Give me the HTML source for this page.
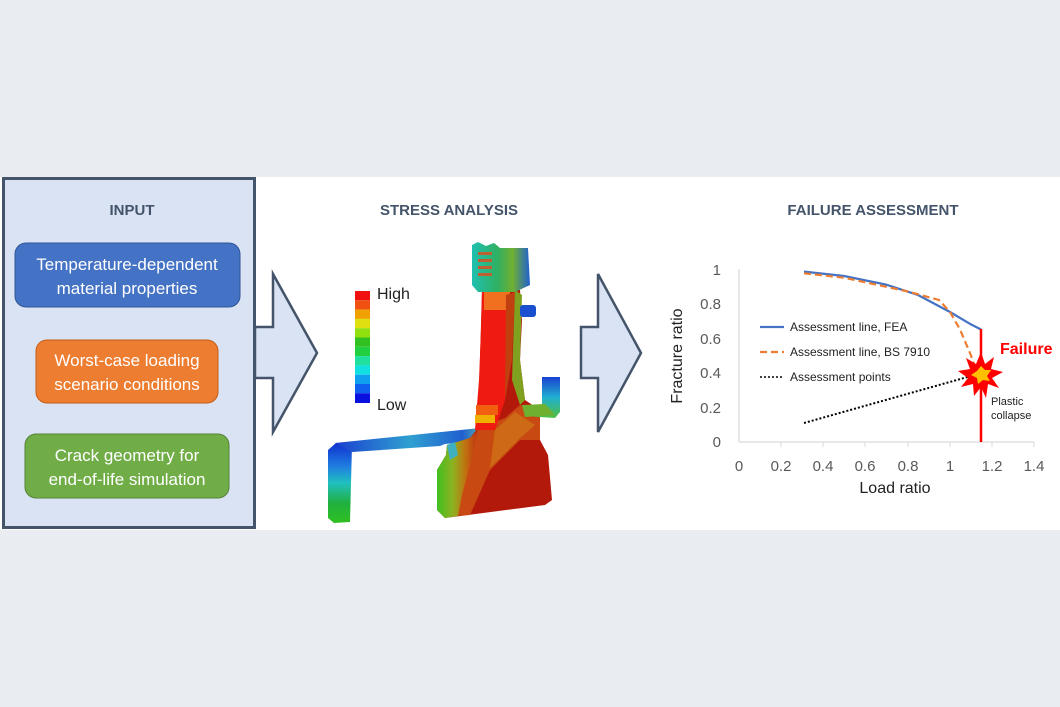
<!DOCTYPE html>
<html><head><meta charset="utf-8"><style>
html,body{margin:0;padding:0;}
body{width:1060px;height:707px;background:#e9edf1;position:relative;overflow:hidden;font-family:"Liberation Sans",sans-serif;}
svg{position:absolute;left:0;top:0;}
</style></head><body>
<svg width="1060" height="707" viewBox="0 0 1060 707" font-family="Liberation Sans, sans-serif">
<defs>
<linearGradient id="leg" x1="0" y1="0" x2="0" y2="1">
<stop offset="0" stop-color="#1030d0"/><stop offset="0.3" stop-color="#2080e0"/><stop offset="0.5" stop-color="#20c0c0"/><stop offset="0.75" stop-color="#20b040"/><stop offset="1" stop-color="#30c020"/></linearGradient>
<linearGradient id="arm" x1="0" y1="0" x2="1" y2="0">
<stop offset="0" stop-color="#1a40d0"/><stop offset="0.5" stop-color="#30a0d0"/><stop offset="0.85" stop-color="#2060d0"/><stop offset="1" stop-color="#60c0a0"/></linearGradient>
<linearGradient id="lstrip" x1="0" y1="0" x2="1" y2="0">
<stop offset="0" stop-color="#40c020"/><stop offset="0.4" stop-color="#90b020"/><stop offset="0.7" stop-color="#c07010"/><stop offset="1" stop-color="#c03010"/></linearGradient>
<linearGradient id="top" x1="0" y1="0" x2="1" y2="0">
<stop offset="0" stop-color="#20c0b0"/><stop offset="0.45" stop-color="#30b060"/><stop offset="0.7" stop-color="#70b030"/><stop offset="1" stop-color="#2060d0"/></linearGradient>
<linearGradient id="rarm" x1="0" y1="0" x2="0" y2="1">
<stop offset="0" stop-color="#1a40d0"/><stop offset="0.5" stop-color="#20b0d0"/><stop offset="1" stop-color="#50c040"/></linearGradient>
</defs>
<rect x="0" y="177" width="1060" height="353" fill="#ffffff"/>
<rect x="3.5" y="178.5" width="251" height="349" fill="#dae3f3" stroke="#44546a" stroke-width="3"/>
<text x="132" y="215" text-anchor="middle" font-size="15" font-weight="bold" fill="#44546a">INPUT</text>
<rect x="15" y="243" width="225" height="64" rx="11" fill="#4472c4" stroke="#2f5597" stroke-width="1"/>
<text x="127" y="270" text-anchor="middle" font-size="17" fill="#fff">Temperature-dependent</text>
<text x="127" y="294" text-anchor="middle" font-size="17" fill="#fff">material properties</text>
<rect x="36" y="340" width="182" height="63" rx="11" fill="#ed7d31" stroke="#c55a11" stroke-width="1"/>
<text x="127" y="366" text-anchor="middle" font-size="17" fill="#fff">Worst-case loading</text>
<text x="127" y="390" text-anchor="middle" font-size="17" fill="#fff">scenario conditions</text>
<rect x="25" y="434" width="204" height="64" rx="11" fill="#70ad47" stroke="#548235" stroke-width="1"/>
<text x="127" y="461" text-anchor="middle" font-size="17" fill="#fff">Crack geometry for</text>
<text x="127" y="485" text-anchor="middle" font-size="17" fill="#fff">end-of-life simulation</text>
<polygon points="255,327 273,327 273,274 317,353 273,432 273,378 255,378" fill="#dae3f3" stroke="#44546a" stroke-width="2.5"/>
<polygon points="581,327 598,327 598,274 641,353 598,432 598,378 581,378" fill="#dae3f3" stroke="#44546a" stroke-width="2.5"/>
<text x="449" y="215" text-anchor="middle" font-size="15" font-weight="bold" fill="#44546a">STRESS ANALYSIS</text>
<text x="873" y="215" text-anchor="middle" font-size="15" font-weight="bold" fill="#44546a">FAILURE ASSESSMENT</text>
<g>
<rect x="355" y="291" width="15" height="9.3" fill="#f01010"/>
<rect x="355" y="300.3" width="15" height="9.3" fill="#f05010"/>
<rect x="355" y="309.6" width="15" height="9.3" fill="#f0a000"/>
<rect x="355" y="318.9" width="15" height="9.3" fill="#e0e010"/>
<rect x="355" y="328.2" width="15" height="9.3" fill="#90e010"/>
<rect x="355" y="337.5" width="15" height="9.3" fill="#30c020"/>
<rect x="355" y="346.8" width="15" height="9.3" fill="#20d040"/>
<rect x="355" y="356.1" width="15" height="9.3" fill="#20e0a0"/>
<rect x="355" y="365.4" width="15" height="9.3" fill="#10e0e0"/>
<rect x="355" y="374.7" width="15" height="9.3" fill="#10a0f0"/>
<rect x="355" y="384" width="15" height="9.3" fill="#1060f0"/>
<rect x="355" y="393.3" width="15" height="9.7" fill="#0a10e0"/>
<text x="377" y="299" font-size="16" fill="#222">High</text>
<text x="377" y="410" font-size="16" fill="#222">Low</text>
</g>
<g>
<polygon points="328,450 336,443 352,445 350,522 334,523 328,518" fill="url(#leg)"/>
<polygon points="335,443 480,428 485,440 445,444 440,446 352,452" fill="url(#arm)"/>
<path d="M482,290 L520,290 L522,320 L520,360 L525,400 L540,410 L540,440 L548,455 L552,500 L545,505 L445,518 L437,510 L437,470 L446,455 L447,445 L470,438 L478,428 Z" fill="#b3190b"/>
<polygon points="478,428 505,418 520,405 540,412 540,440 520,440 490,470 470,515 455,516 462,480" fill="#c84a12"/>
<polygon points="495,430 515,412 535,425 520,438 490,468" fill="#d07818" opacity="0.7"/>
<path d="M437,510 L437,470 L446,455 L447,445 L470,438 L478,430 L470,465 L462,495 L458,516 L445,518 Z" fill="url(#lstrip)"/>
<path d="M447,445 L455,442 L458,455 L450,460 Z" fill="#40b0c0"/>
<path d="M482,290 L508,290 L505,400 L495,430 L475,430 L479,380 L481,330 Z" fill="#ef1a10"/>
<rect x="476" y="405" width="22" height="10" fill="#f06010"/>
<rect x="475" y="415" width="20" height="8" fill="#f0b000"/>
<rect x="484" y="288" width="26" height="22" fill="#f07020"/>
<path d="M506,295 L515,292 L512,360 L505,400 Z" fill="#c04010"/>
<path d="M515,290 L522,295 L520,360 L525,400 L520,405 L512,380 Z" fill="#80a020"/>
<path d="M472,245 L478,242 L486,246 L494,243 L500,248 L528,248 L530,285 L515,292 L478,292 L472,285 Z" fill="url(#top)"/>
<rect x="478" y="252" width="14" height="3" fill="#c06030"/>
<rect x="478" y="259" width="14" height="3" fill="#c06030"/>
<rect x="478" y="266" width="14" height="3" fill="#c06030"/>
<rect x="478" y="273" width="14" height="3" fill="#c06030"/>
<rect x="520" y="305" width="16" height="12" rx="3" fill="#1a50d0"/>
<polygon points="522,405 542,405 542,377 560,377 560,412 555,418 525,416" fill="url(#rarm)"/>
<polygon points="522,405 545,404 555,415 525,417" fill="#70b030"/>
</g>
<g font-size="15" fill="#595959">
<line x1="739" y1="269" x2="739" y2="442" stroke="#d9d9d9" stroke-width="1.2"/>
<line x1="739" y1="442" x2="1034" y2="442" stroke="#d9d9d9" stroke-width="1.2"/>
<g stroke="#d9d9d9"><line x1="781" y1="442" x2="781" y2="447"/><line x1="823" y1="442" x2="823" y2="447"/><line x1="865" y1="442" x2="865" y2="447"/><line x1="908" y1="442" x2="908" y2="447"/><line x1="950" y1="442" x2="950" y2="447"/><line x1="992" y1="442" x2="992" y2="447"/><line x1="1034" y1="442" x2="1034" y2="447"/></g>
<g text-anchor="end"><text x="721" y="447">0</text><text x="721" y="413">0.2</text><text x="721" y="378">0.4</text><text x="721" y="344">0.6</text><text x="721" y="309">0.8</text><text x="721" y="275">1</text></g>
<g text-anchor="middle"><text x="739" y="471">0</text><text x="781" y="471">0.2</text><text x="823" y="471">0.4</text><text x="865" y="471">0.6</text><text x="908" y="471">0.8</text><text x="950" y="471">1</text><text x="992" y="471">1.2</text><text x="1034" y="471">1.4</text></g>
<text x="895" y="493" text-anchor="middle" font-size="16" fill="#222">Load ratio</text>
<text transform="translate(682,356) rotate(-90)" text-anchor="middle" font-size="16" fill="#222">Fracture ratio</text>
</g>
<polyline points="804,271.6 844,276 886,284.6 918,295 950,312 971,324.4 981,329.5" fill="none" stroke="#4472c4" stroke-width="2.2"/>
<polyline points="804,273.3 844,277.7 908,291.5 939,300 950,312 960,329.5 971,355.5 977,373" fill="none" stroke="#ed7d31" stroke-width="2.2" stroke-dasharray="7,4"/>
<line x1="804" y1="423" x2="971" y2="376" stroke="#000" stroke-width="2" stroke-dasharray="2,2"/>
<line x1="981" y1="329" x2="981" y2="442" stroke="#ff0000" stroke-width="2.5"/>
<polygon points="981,352 985,364 994,357 991,369 1003,372 992,378 999,388 988,384 986,398 981,387 974,396 973,384 961,387 968,378 958,371 970,369 966,358 976,364" fill="#ff0000"/>
<polygon points="981,366 985,370 991,370 987,376 990,381 983,380 978,384 977,378 971,375 977,371" fill="#ffc000"/>
<text x="1000" y="354" font-size="16" font-weight="bold" fill="#ff0000">Failure</text>
<text x="991" y="405" font-size="11" fill="#222">Plastic</text>
<text x="991" y="419" font-size="11" fill="#222">collapse</text>
<line x1="760" y1="327" x2="784" y2="327" stroke="#4472c4" stroke-width="2.2"/>
<line x1="760" y1="352" x2="784" y2="352" stroke="#ed7d31" stroke-width="2.2" stroke-dasharray="7,4"/>
<line x1="760" y1="377" x2="784" y2="377" stroke="#000" stroke-width="1.5" stroke-dasharray="2,2"/>
<g font-size="12" fill="#222"><text x="790" y="331">Assessment line, FEA</text><text x="790" y="356">Assessment line, BS 7910</text><text x="790" y="381">Assessment points</text></g>
</svg>
</body></html>
